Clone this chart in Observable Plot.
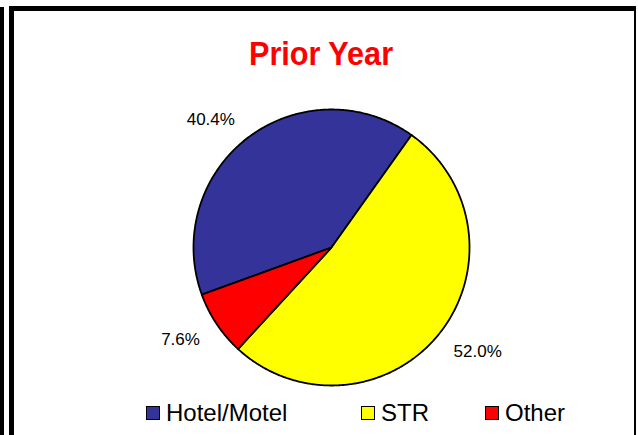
<!DOCTYPE html>
<html>
<head>
<meta charset="utf-8">
<script src="https://cdn.jsdelivr.net/npm/d3@7"></script>
<script src="https://cdn.jsdelivr.net/npm/@observablehq/plot@0.6"></script>
<style>
  html, body { margin: 0; padding: 0; background: #fff; }
  #wrap { position: relative; width: 638px; height: 435px; overflow: hidden; background: #fff; }
  #bar { position: absolute; left: 0; top: 7px; width: 4px; height: 440px; background: #000; }
  #frame { position: absolute; left: 9px; top: 6px; width: 620px; height: 460px;
           border-left: 5px solid #000; border-top: 5px solid #000; border-right: 2px solid #000; }
  #chart { position: absolute; left: 0; top: 0; }
  #title { position: absolute; left: 0; width: 642px; top: 36px; text-align: center; line-height: 1; }
  #title span { display: inline-block; transform: scaleX(0.9); transform-origin: center;
           font-family: "Liberation Sans", Arial, sans-serif;
           font-weight: bold; font-size: 34px; color: #ff0000; }
  #legend { position: absolute; left: 146px; top: 401px; display: grid;
            grid-template-columns: 215px 124px auto;
            font-family: "Liberation Sans", Arial, sans-serif; font-size: 24px; line-height: 1; color: #000; }
  .item { display: flex; align-items: flex-start; white-space: nowrap; }
  .sw { width: 12px; height: 12px; border: 1.5px solid #000; margin-right: 6px; margin-top: 5px; flex: none; }
</style>
</head>
<body>
<div id="wrap">
  <div id="bar"></div>
  <div id="frame"></div>
  <div id="chart"></div>
  <div id="title"><span></span></div>
  <div id="legend"></div>
</div>
<script>
// ---- data ----
const title = "Prior Year";
const categories = ["Hotel/Motel", "STR", "Other"];
const shares = [40.4, 52.0, 7.6];
const labels = ["40.4%", "52.0%", "7.6%"];
const colors = ["#333399", "#FFFF00", "#FF0000"];

// ---- layout ----
const W = 638, H = 435, cx = 331, cy = 247, R = 138;
const deg = Math.PI / 180;

const data = categories.map((c, i) => ({cat: c, value: shares[i], label: labels[i]}));
const arcs = d3.pie().sort(null).value(d => d.value)
  .startAngle(-110 * deg).endAngle(250 * deg)(data);

const poly = [];
for (const a of arcs) {
  poly.push({cat: a.data.cat, x: 0, y: 0});
  const n = Math.max(2, Math.ceil((a.endAngle - a.startAngle) / (0.5 * deg)));
  for (let k = 0; k <= n; k++) {
    const t = a.startAngle + (a.endAngle - a.startAngle) * k / n;
    poly.push({cat: a.data.cat, x: Math.sin(t), y: Math.cos(t)});
  }
}

const lab = arcs.map(a => {
  const m = (a.startAngle + a.endAngle) / 2;
  return {label: a.data.label, x: 1.12 * Math.sin(m), y: 1.12 * Math.cos(m),
          right: Math.sin(m) >= 0, up: Math.cos(m) >= 0};
});

const textOpts = {fontSize: 17, fill: "#000", fontFamily: "'Liberation Sans', Arial, sans-serif"};
const textMarks = [];
for (const right of [true, false]) for (const up of [true, false]) {
  textMarks.push(Plot.text(lab.filter(d => d.right === right && d.up === up), {
    x: "x", y: "y", text: "label",
    textAnchor: right ? "start" : "end",
    lineAnchor: up ? "bottom" : "top",
    dx: right ? 2 : -3, ...textOpts
  }));
}

const chart = Plot.plot({
  width: W, height: H,
  marginTop: 0, marginRight: 0, marginBottom: 0, marginLeft: 0,
  x: {domain: [-cx / R, (W - cx) / R], axis: null},
  y: {domain: [-(H - cy) / R, cy / R], axis: null},
  color: {domain: categories, range: colors, legend: false},
  style: {background: "transparent", overflow: "visible"},
  marks: [
    Plot.line(poly, {x: "x", y: "y", z: "cat", fill: "cat", stroke: "#000",
      strokeWidth: 1.8, strokeLinejoin: "round", curve: "linear-closed"}),
    ...textMarks
  ]
});
document.getElementById("chart").appendChild(chart);

document.querySelector("#title span").textContent = title;
const leg = document.getElementById("legend");
categories.forEach((c, i) => {
  const it = document.createElement("div");
  it.className = "item";
  const sw = document.createElement("div");
  sw.className = "sw";
  sw.style.background = colors[i];
  const tx = document.createElement("span");
  tx.textContent = c;
  it.appendChild(sw); it.appendChild(tx);
  leg.appendChild(it);
});
</script>
</body>
</html>
